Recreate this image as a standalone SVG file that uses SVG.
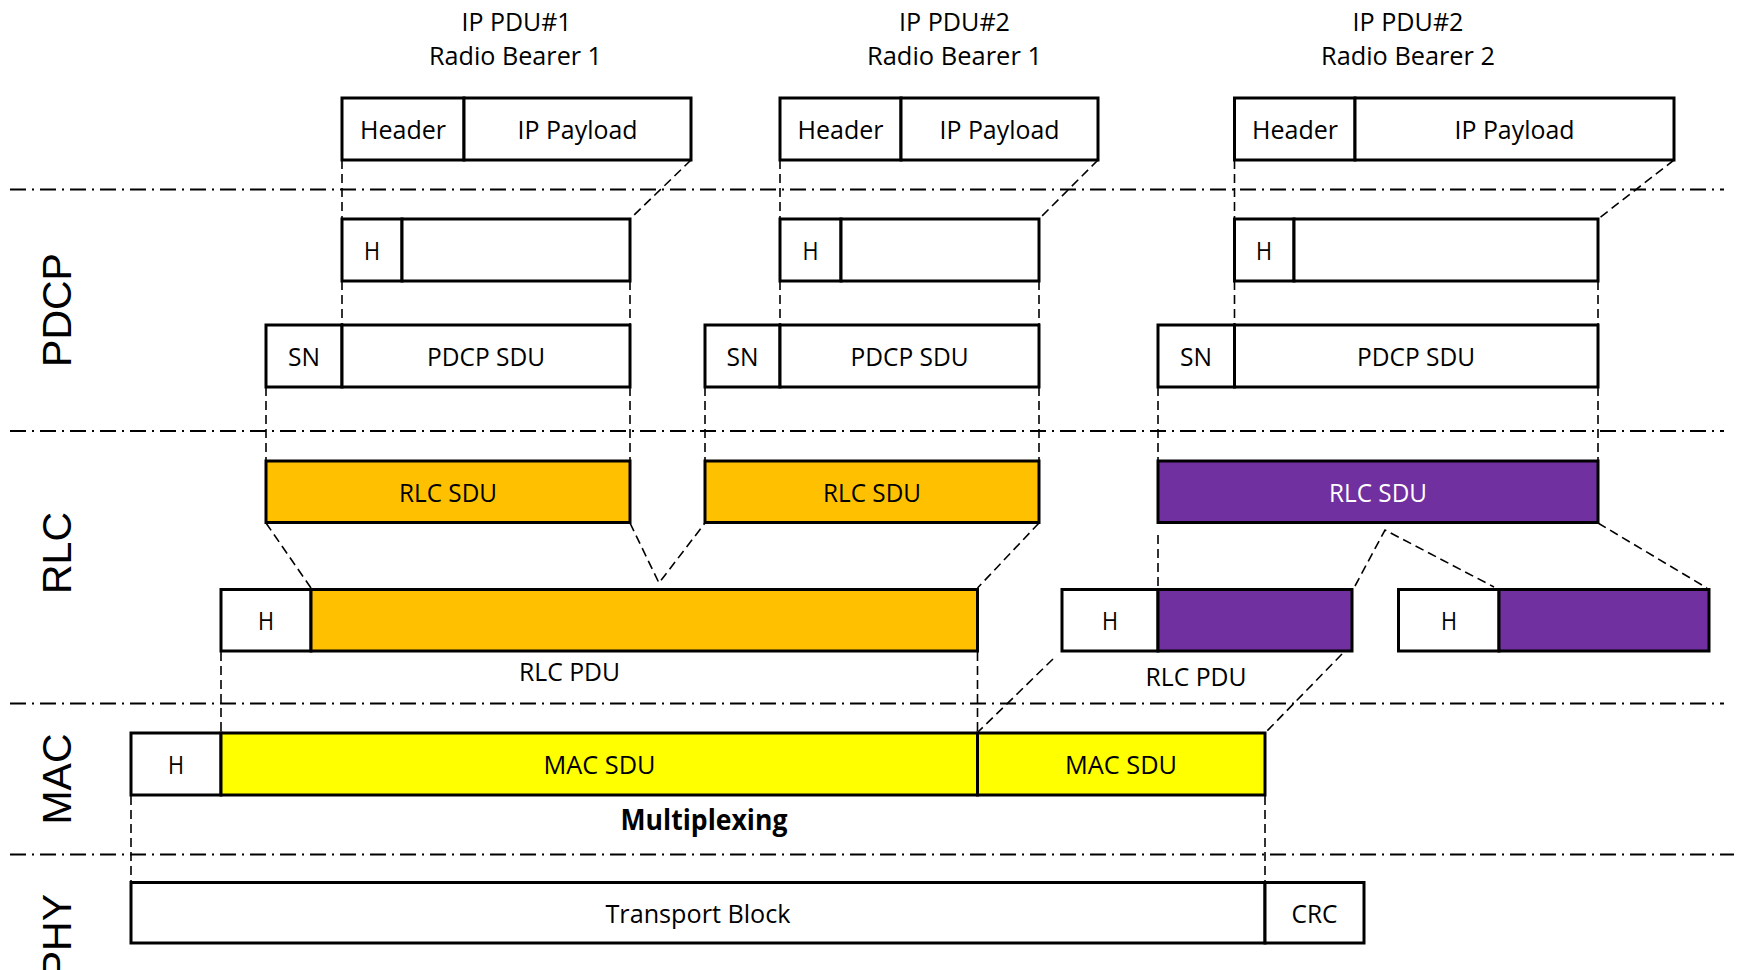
<svg xmlns="http://www.w3.org/2000/svg" width="1741" height="970" viewBox="0 0 1741 970">
  <style>
    .box { stroke: #000; stroke-width: 3; }
    .div { stroke: #000; stroke-width: 2.5; }
    .w { fill: #fff; }
    .o { fill: #FFC000; }
    .p { fill: #7030A0; }
    .y { fill: #FFFF00; }
    .lbl { font-family: "Open Sans", "Liberation Sans", sans-serif; font-size: 26px; text-anchor: middle; fill: #000; }
    .wt { fill: #fff; }
    .bold { font-weight: bold; font-size: 29px; }
    .layer { font-family: "Liberation Sans", Arial, sans-serif; font-size: 41px; text-anchor: middle; fill: #000; }
    .sep { stroke: #000; stroke-width: 2; stroke-dasharray: 16 6 2 6; fill: none; }
    .dash { stroke: #000; stroke-width: 1.6; stroke-dasharray: 9 5; fill: none; }
  </style>

  <!-- layer separators -->
  <g id="separators">
    <line class="sep" x1="10" y1="189.5" x2="1724" y2="189.5"/>
    <line class="sep" x1="10" y1="431" x2="1724" y2="431"/>
    <line class="sep" x1="10" y1="703.5" x2="1724" y2="703.5"/>
    <line class="sep" x1="10" y1="854.5" x2="1734" y2="854.5"/>
  </g>

  <!-- layer names -->
  <g id="layer-labels">
    <text class="layer" transform="translate(71,310) rotate(-90)">PDCP</text>
    <text class="layer" transform="translate(71,553) rotate(-90)">RLC</text>
    <text class="layer" transform="translate(71,779) rotate(-90)">MAC</text>
    <text class="layer" transform="translate(71,894) rotate(-90)" style="text-anchor:end">PHY</text>
  </g>

  <!-- dashed mapping lines -->
  <g id="connectors">
    <!-- IP packet to PDCP -->
    <line class="dash" x1="342" y1="160" x2="342" y2="219"/>
    <line class="dash" x1="691" y1="160" x2="630" y2="219"/>
    <line class="dash" x1="780" y1="160" x2="780" y2="219"/>
    <line class="dash" x1="1098" y1="160" x2="1039" y2="219"/>
    <line class="dash" x1="1234.5" y1="160" x2="1234.5" y2="219"/>
    <line class="dash" x1="1674" y1="160" x2="1598" y2="219"/>
    <!-- header compression to SN -->
    <line class="dash" x1="342" y1="281" x2="342" y2="325"/>
    <line class="dash" x1="630" y1="281" x2="630" y2="325"/>
    <line class="dash" x1="780" y1="281" x2="780" y2="325"/>
    <line class="dash" x1="1039" y1="281" x2="1039" y2="325"/>
    <line class="dash" x1="1234.5" y1="281" x2="1234.5" y2="325"/>
    <line class="dash" x1="1598" y1="281" x2="1598" y2="325"/>
    <!-- PDCP to RLC SDU -->
    <line class="dash" x1="266" y1="387" x2="266" y2="461"/>
    <line class="dash" x1="630" y1="387" x2="630" y2="461"/>
    <line class="dash" x1="705" y1="387" x2="705" y2="461"/>
    <line class="dash" x1="1039" y1="387" x2="1039" y2="461"/>
    <line class="dash" x1="1158" y1="387" x2="1158" y2="461"/>
    <line class="dash" x1="1598" y1="387" x2="1598" y2="461"/>
    <!-- RLC concatenation (bearer 1) -->
    <line class="dash" x1="266" y1="523" x2="311" y2="588"/>
    <polyline class="dash" points="630,523 659,583 705,523"/>
    <line class="dash" x1="1039" y1="523" x2="977.5" y2="588"/>
    <!-- RLC segmentation (bearer 2) -->
    <line class="dash" x1="1158" y1="535" x2="1158" y2="589"/>
    <polyline class="dash" points="1355,586 1385,530 1494,587"/>
    <line class="dash" x1="1598" y1="523" x2="1707" y2="588"/>
    <!-- RLC PDU to MAC SDU -->
    <line class="dash" x1="221" y1="652" x2="221" y2="733"/>
    <line class="dash" x1="977.5" y1="652" x2="977.5" y2="733"/>
    <line class="dash" x1="1053" y1="659" x2="978" y2="732"/>
    <line class="dash" x1="1342" y1="654" x2="1267" y2="731"/>
    <!-- MAC PDU to transport block -->
    <line class="dash" x1="131" y1="796" x2="131" y2="882"/>
    <line class="dash" x1="1265" y1="796" x2="1265" y2="882"/>
  </g>

  <!-- IP packet titles -->
  <g id="titles">
    <text class="lbl" x="516.5" y="31" textLength="110" lengthAdjust="spacingAndGlyphs">IP PDU#1</text>
    <text class="lbl" x="515.5" y="65" textLength="173" lengthAdjust="spacingAndGlyphs">Radio Bearer 1</text>
    <text class="lbl" x="954.5" y="31" textLength="111" lengthAdjust="spacingAndGlyphs">IP PDU#2</text>
    <text class="lbl" x="954.5" y="65" textLength="175" lengthAdjust="spacingAndGlyphs">Radio Bearer 1</text>
    <text class="lbl" x="1408" y="31" textLength="111" lengthAdjust="spacingAndGlyphs">IP PDU#2</text>
    <text class="lbl" x="1408" y="65" textLength="174" lengthAdjust="spacingAndGlyphs">Radio Bearer 2</text>
  </g>

  <!-- IP packets -->
  <g id="ip-pdu-1">
    <rect class="box w" x="342" y="98" width="122" height="62"/>
    <rect class="box w" x="464" y="98" width="227" height="62"/>
    <text class="lbl" x="403" y="139" textLength="86" lengthAdjust="spacingAndGlyphs">Header</text>
    <text class="lbl" x="577.5" y="139" textLength="120" lengthAdjust="spacingAndGlyphs">IP Payload</text>
  </g>
  <g id="ip-pdu-2">
    <rect class="box w" x="780" y="98" width="121" height="62"/>
    <rect class="box w" x="901" y="98" width="197" height="62"/>
    <text class="lbl" x="840.5" y="139" textLength="86" lengthAdjust="spacingAndGlyphs">Header</text>
    <text class="lbl" x="999.5" y="139" textLength="120" lengthAdjust="spacingAndGlyphs">IP Payload</text>
  </g>
  <g id="ip-pdu-3">
    <rect class="box w" x="1234.5" y="98" width="120.5" height="62"/>
    <rect class="box w" x="1355" y="98" width="319" height="62"/>
    <text class="lbl" x="1295" y="139" textLength="86" lengthAdjust="spacingAndGlyphs">Header</text>
    <text class="lbl" x="1514.5" y="139" textLength="120" lengthAdjust="spacingAndGlyphs">IP Payload</text>
  </g>

  <!-- PDCP: compressed header -->
  <g id="pdcp-hc-1">
    <rect class="box w" x="342" y="219" width="60" height="62"/>
    <rect class="box w" x="402" y="219" width="228" height="62"/>
    <text class="lbl" x="372" y="260" textLength="16" lengthAdjust="spacingAndGlyphs">H</text>
  </g>
  <g id="pdcp-hc-2">
    <rect class="box w" x="780" y="219" width="61" height="62"/>
    <rect class="box w" x="841" y="219" width="198" height="62"/>
    <text class="lbl" x="810.5" y="260" textLength="16" lengthAdjust="spacingAndGlyphs">H</text>
  </g>
  <g id="pdcp-hc-3">
    <rect class="box w" x="1234.5" y="219" width="59.5" height="62"/>
    <rect class="box w" x="1294" y="219" width="304" height="62"/>
    <text class="lbl" x="1264" y="260" textLength="16" lengthAdjust="spacingAndGlyphs">H</text>
  </g>

  <!-- PDCP: SN + SDU -->
  <g id="pdcp-sn-1">
    <rect class="box w" x="266" y="325" width="76" height="62"/>
    <rect class="box w" x="342" y="325" width="288" height="62"/>
    <text class="lbl" x="304" y="366" textLength="32" lengthAdjust="spacingAndGlyphs">SN</text>
    <text class="lbl" x="486" y="366" textLength="118" lengthAdjust="spacingAndGlyphs">PDCP SDU</text>
  </g>
  <g id="pdcp-sn-2">
    <rect class="box w" x="705" y="325" width="75" height="62"/>
    <rect class="box w" x="780" y="325" width="259" height="62"/>
    <text class="lbl" x="742.5" y="366" textLength="32" lengthAdjust="spacingAndGlyphs">SN</text>
    <text class="lbl" x="909.5" y="366" textLength="118" lengthAdjust="spacingAndGlyphs">PDCP SDU</text>
  </g>
  <g id="pdcp-sn-3">
    <rect class="box w" x="1158" y="325" width="76.5" height="62"/>
    <rect class="box w" x="1234.5" y="325" width="363.5" height="62"/>
    <text class="lbl" x="1196" y="366" textLength="32" lengthAdjust="spacingAndGlyphs">SN</text>
    <text class="lbl" x="1416" y="366" textLength="118" lengthAdjust="spacingAndGlyphs">PDCP SDU</text>
  </g>

  <!-- RLC SDUs -->
  <g id="rlc-sdu-1">
    <rect class="box o" x="266" y="461" width="364" height="61.5"/>
    <text class="lbl" x="448" y="502" textLength="98" lengthAdjust="spacingAndGlyphs">RLC SDU</text>
  </g>
  <g id="rlc-sdu-2">
    <rect class="box o" x="705" y="461" width="334" height="61.5"/>
    <text class="lbl" x="872" y="502" textLength="98" lengthAdjust="spacingAndGlyphs">RLC SDU</text>
  </g>
  <g id="rlc-sdu-3">
    <rect class="box p" x="1158" y="461" width="440" height="61.5"/>
    <text class="lbl wt" x="1378" y="502" textLength="98" lengthAdjust="spacingAndGlyphs">RLC SDU</text>
  </g>

  <!-- RLC PDUs -->
  <g id="rlc-pdu-1">
    <rect class="box w" x="221" y="589.5" width="90" height="61.5"/>
    <rect class="box o" x="311" y="589.5" width="666.5" height="61.5"/>
    <text class="lbl" x="266" y="630" textLength="16" lengthAdjust="spacingAndGlyphs">H</text>
    <text class="lbl" x="569.5" y="681" textLength="101" lengthAdjust="spacingAndGlyphs">RLC PDU</text>
  </g>
  <g id="rlc-pdu-2">
    <rect class="box w" x="1062" y="589.5" width="96" height="61.5"/>
    <rect class="box p" x="1158" y="589.5" width="194" height="61.5"/>
    <text class="lbl" x="1110" y="630" textLength="16" lengthAdjust="spacingAndGlyphs">H</text>
    <text class="lbl" x="1196" y="686" textLength="101" lengthAdjust="spacingAndGlyphs">RLC PDU</text>
  </g>
  <g id="rlc-pdu-3">
    <rect class="box w" x="1398.5" y="589.5" width="100.5" height="61.5"/>
    <rect class="box p" x="1499" y="589.5" width="210" height="61.5"/>
    <text class="lbl" x="1449" y="630" textLength="16" lengthAdjust="spacingAndGlyphs">H</text>
  </g>

  <!-- MAC PDU -->
  <g id="mac-pdu">
    <rect class="box w" x="131" y="733" width="90" height="62"/>
    <rect class="box y" x="221" y="733" width="756.5" height="62"/>
    <rect class="box y" x="977.5" y="733" width="287.5" height="62"/>
    <text class="lbl" x="176" y="774" textLength="16" lengthAdjust="spacingAndGlyphs">H</text>
    <text class="lbl" x="599.5" y="774" textLength="112" lengthAdjust="spacingAndGlyphs">MAC SDU</text>
    <text class="lbl" x="1121" y="774" textLength="112" lengthAdjust="spacingAndGlyphs">MAC SDU</text>
    <text class="lbl bold" x="704" y="830" textLength="167" lengthAdjust="spacingAndGlyphs">Multiplexing</text>
  </g>

  <!-- PHY transport block -->
  <g id="transport-block">
    <rect class="box w" x="131" y="882.5" width="1134" height="60.5"/>
    <rect class="box w" x="1265" y="882.5" width="99" height="60.5"/>
    <text class="lbl" x="698" y="923" textLength="185" lengthAdjust="spacingAndGlyphs">Transport Block</text>
    <text class="lbl" x="1314.5" y="923" textLength="46" lengthAdjust="spacingAndGlyphs">CRC</text>
  </g>
</svg>
